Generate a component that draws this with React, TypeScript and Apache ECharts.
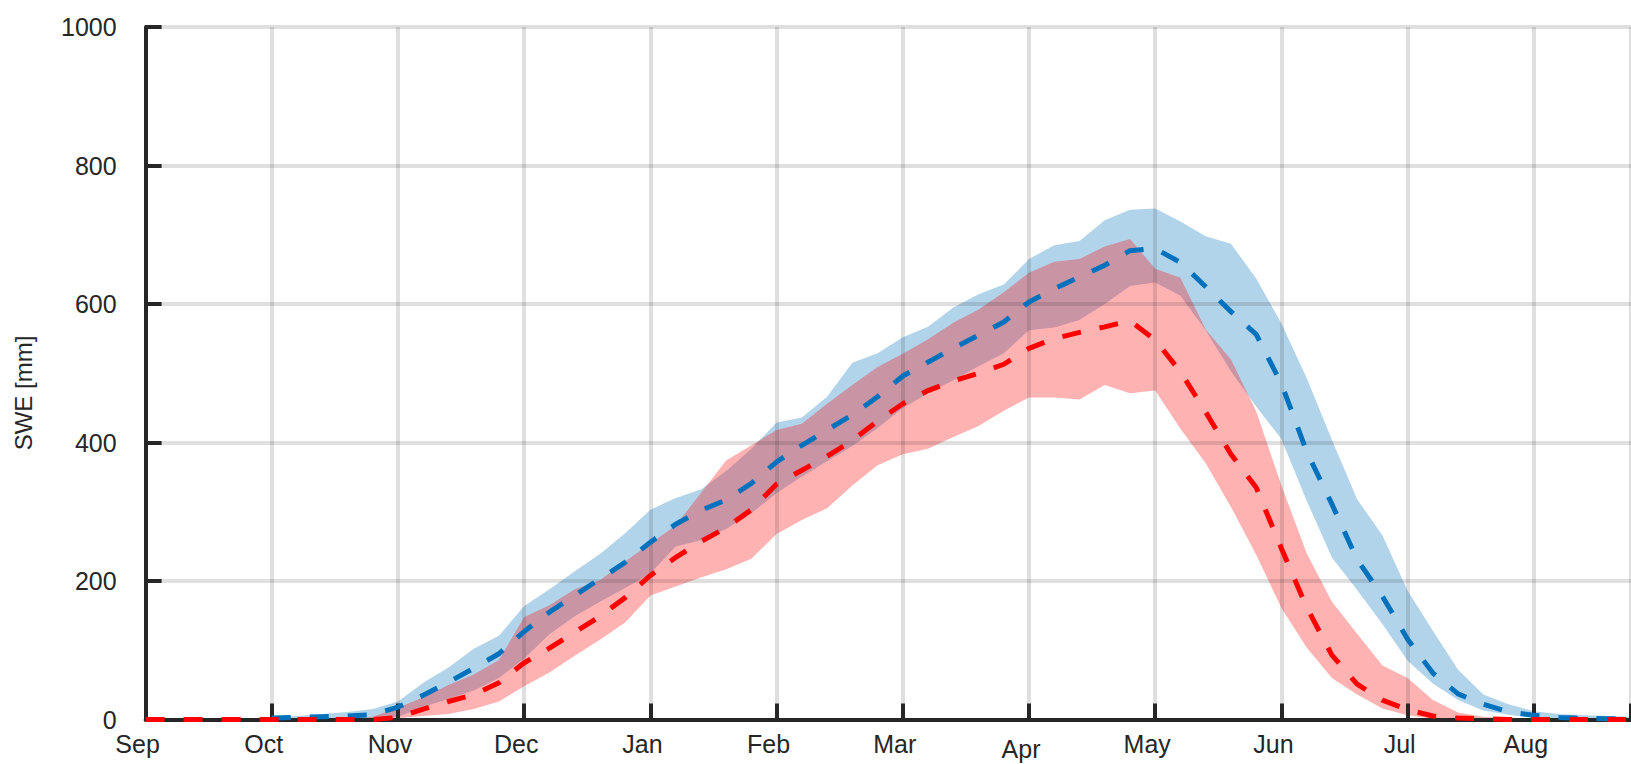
import React, { useEffect, useRef } from 'react';
import * as echarts from 'echarts';

// Month tick labels (water year, Sep -> Aug)
const MONTHS = ['Sep', 'Oct', 'Nov', 'Dec', 'Jan', 'Feb', 'Mar', 'Apr', 'May', 'Jun', 'Jul', 'Aug'];
const Y_LABEL = 'SWE [mm]';

// Sample positions, in months since 1 Sep
const X = [0, 0.2, 0.4, 0.6, 0.8, 1, 1.2, 1.4, 1.6, 1.8, 2, 2.2, 2.4, 2.6, 2.8, 3, 3.2, 3.4, 3.6, 3.8,
  4, 4.2, 4.4, 4.6, 4.8, 5, 5.2, 5.4, 5.6, 5.8, 6, 6.2, 6.4, 6.6, 6.8, 7, 7.2, 7.4, 7.6, 7.8,
  8, 8.2, 8.4, 8.6, 8.8, 9, 9.2, 9.4, 9.6, 9.8, 10, 10.2, 10.4, 10.6, 10.8, 11, 11.2, 11.4, 11.6, 11.77];

// Red scenario: mean and band
const RED_MEAN = [0, 0, 0, 0, 0, 0, 0, 0, 0, 0, 3, 15, 26, 36, 53, 82, 103, 126, 149, 176,
  208, 234, 257, 277, 303, 340, 360, 380, 403, 431, 456, 475, 489, 500, 513, 536, 550, 559, 567, 576,
  548, 502, 444, 383, 335, 247, 162, 93, 51, 28, 14, 5, 2, 1, 0, 0, 0, 0, 0, 0];
const RED_HI = [0, 0, 0, 0, 0, 0, 0, 0, 0, 4, 17, 32, 50, 65, 86, 148, 165, 188, 201, 228,
  254, 280, 327, 374, 396, 418, 427, 456, 483, 509, 528, 549, 573, 592, 617, 645, 661, 665, 683, 694,
  651, 638, 563, 520, 445, 338, 240, 170, 124, 78, 60, 28, 10, 4, 2, 1, 0, 0, 0, 0];
const RED_LO = [0, 0, 0, 0, 0, 0, 0, 0, 0, 0, 2, 5, 8, 15, 26, 48, 68, 92, 115, 140,
  179, 192, 205, 217, 232, 268, 288, 305, 338, 367, 383, 391, 408, 424, 446, 465, 465, 462, 483, 471,
  475, 420, 370, 307, 238, 161, 104, 60, 36, 16, 6, 1, 0, 0, 0, 0, 0, 0, 0, 0];

// Blue scenario: mean and band (starts in October)
const BLUE_MEAN = [null, null, null, null, null, 2, 3, 4, 5, 7, 18, 35, 54, 74, 95, 127, 155, 179, 203, 227,
  256, 282, 302, 317, 341, 372, 396, 418, 440, 466, 496, 516, 536, 555, 574, 603, 622, 639, 656, 677,
  680, 660, 625, 589, 556, 485, 387, 311, 231, 178, 116, 67, 37, 22, 11, 6, 3, 2, 1, 1];
const BLUE_HI = [null, null, null, null, null, 4, 5, 8, 11, 15, 26, 53, 75, 102, 121, 164, 188, 214, 239, 269,
  303, 320, 332, 359, 391, 429, 436, 466, 515, 529, 552, 567, 595, 614, 628, 665, 685, 691, 721, 736,
  738, 719, 698, 687, 637, 572, 493, 404, 318, 266, 186, 128, 72, 36, 22, 12, 8, 6, 5, 4];
const BLUE_LO = [null, null, null, null, null, 0, 0, 0, 0, 1, 4, 18, 30, 42, 60, 88, 123, 149, 170, 190,
  211, 250, 259, 275, 298, 327, 351, 373, 395, 421, 450, 471, 490, 510, 529, 562, 566, 577, 600, 626,
  631, 612, 562, 503, 452, 405, 316, 234, 187, 138, 85, 52, 28, 13, 7, 2, 1, 0, 0, 0];

const FONT = '"Liberation Sans", Arial, Helvetica, sans-serif';
const INK = '#262626';
const TICK_FONT = 25;

function bandRows(lo: (number | null)[], hi: (number | null)[]) {
  const rows: number[][] = [];
  X.forEach((x, i) => {
    if (lo[i] != null && hi[i] != null) rows.push([x, lo[i] as number, hi[i] as number]);
  });
  return rows;
}

function bandSeries(name: string, lo: (number | null)[], hi: (number | null)[], color: string, z: number) {
  const rows = bandRows(lo, hi);
  return {
    name,
    type: 'custom',
    coordinateSystem: 'cartesian2d',
    data: rows,
    encode: { x: 0, y: [1, 2] },
    silent: true,
    z,
    renderItem: (params: any, api: any) => {
      if (params.dataIndex !== 0) return null;
      const pts: number[][] = [];
      for (let i = 0; i < rows.length; i++) pts.push(api.coord([rows[i][0], rows[i][2]]));
      for (let i = rows.length - 1; i >= 0; i--) pts.push(api.coord([rows[i][0], rows[i][1]]));
      return { type: 'polygon', shape: { points: pts }, style: { fill: color, stroke: null } };
    },
  };
}

function lineRows(v: (number | null)[]) {
  const rows: number[][] = [];
  X.forEach((x, i) => {
    if (v[i] != null) rows.push([x, v[i] as number]);
  });
  return rows;
}

export default function App() {
  const ref = useRef<HTMLDivElement>(null);
  useEffect(() => {
    if (!ref.current) return;
    const chart = echarts.init(ref.current, undefined, { renderer: 'svg' });
    const axisLineStyle = { color: INK, width: 4 };
    const gridLine = { show: true, lineStyle: { color: 'rgba(38,38,38,0.15)', width: 4 } };
    chart.setOption({
      animation: false,
      backgroundColor: '#ffffff',
      grid: { left: 145.6, right: 0, top: 27, bottom: 44.5, containLabel: false, outerBoundsMode: 'none' },
      xAxis: {
        type: 'value',
        min: 0,
        max: 11.77,
        interval: 1,
        z: 5,
        axisLine: { show: true, lineStyle: axisLineStyle },
        axisTick: { show: true, inside: true, length: 16, lineStyle: { color: INK, width: 4 } },
        splitLine: gridLine,
        axisLabel: {
          margin: 12,
          fontSize: TICK_FONT,
          fontFamily: FONT,
          color: INK,
          padding: [0, 16, 0, 0],
          formatter: (v: number) => {
            const r = Math.round(v);
            if (Math.abs(v - r) > 1e-6 || r < 0 || r >= MONTHS.length) return '';
            return r === 7 ? '{apr|' + MONTHS[r] + '}' : MONTHS[r];
          },
          rich: {
            apr: { fontSize: TICK_FONT, fontFamily: FONT, color: INK, padding: [5, 0, 0, 0] },
          },
        },
      },
      yAxis: {
        type: 'value',
        min: 0,
        max: 1000,
        interval: 200,
        z: 5,
        axisLine: { show: true, lineStyle: axisLineStyle },
        axisTick: { show: true, inside: true, length: 16, lineStyle: { color: INK, width: 4 } },
        splitLine: gridLine,
        axisLabel: {
          margin: 29,
          fontSize: TICK_FONT,
          fontFamily: FONT,
          color: INK,
          padding: [0, 0, 12, 0],
          formatter: (v: number) => String(Math.round(v)),
        },
      },
      graphic: [
        {
          type: 'text',
          x: 23,
          y: 393,
          rotation: Math.PI / 2,
          style: {
            text: Y_LABEL,
            fontSize: 24,
            fontFamily: FONT,
            fill: INK,
            textAlign: 'center',
            textVerticalAlign: 'middle',
          },
        },
      ],
      series: [
        bandSeries('blue band', BLUE_LO, BLUE_HI, 'rgba(0,114,189,0.3)', 2),
        bandSeries('red band', RED_LO, RED_HI, 'rgba(255,0,0,0.3)', 3),
        {
          name: 'blue mean',
          type: 'line',
          data: lineRows(BLUE_MEAN),
          symbol: 'none',
          silent: true,
          z: 10,
          lineStyle: { color: '#0072BD', width: 5, type: [19, 19] },
        },
        {
          name: 'red mean',
          type: 'line',
          data: lineRows(RED_MEAN),
          symbol: 'none',
          silent: true,
          z: 11,
          lineStyle: { color: '#FF0000', width: 5, type: [19, 19] },
        },
      ],
    });
    return () => chart.dispose();
  }, []);
  return (
    <div
      ref={ref}
      style={{ position: 'absolute', left: 0, top: 0, width: 1631, height: 764, background: '#fff' }}
    />
  );
}
